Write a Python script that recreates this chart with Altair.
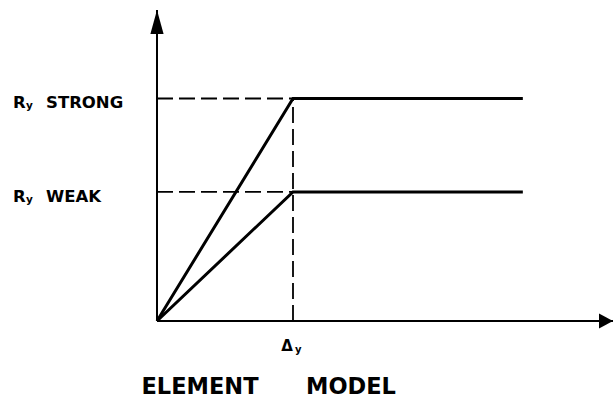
import altair as alt
import pandas as pd

# Element model: force R versus deformation, bilinear for a strong and a weak element
delta_y = 1.0                     # yield deformation
level_names = ["STRONG", "WEAK"]
r_levels = [1.0, 0.58]            # yield strengths R_y
x_plateau_end = 2.69              # end of the plastic plateau
x_axis_end = 3.353                # tip of the deformation axis
y_axis_end = 1.398                # tip of the force axis

X_DOMAIN = [-1.1544, 3.3603]
Y_DOMAIN = [-0.3506, 1.4427]
FONT = "DejaVu Sans"

xs = alt.Scale(domain=X_DOMAIN, nice=False, zero=False)
ys = alt.Scale(domain=Y_DOMAIN, nice=False, zero=False)

# curves: origin -> yield point -> plateau
curve_rows = []
for name, r in zip(level_names, r_levels):
    for i, (xv, yv) in enumerate([(0.0, 0.0), (delta_y, r), (x_plateau_end, r)]):
        curve_rows.append({"name": name, "order": i, "x": xv, "y": yv})
curves_df = pd.DataFrame(curve_rows)

axes_df = pd.DataFrame([
    {"x": 0.0, "y": 0.0, "x2": x_axis_end, "y2": 0.0},
    {"x": 0.0, "y": 0.0, "x2": 0.0, "y2": y_axis_end},
])

dash_rows = [{"x": 0.0, "y": r, "x2": delta_y, "y2": r} for r in r_levels]
dash_rows.append({"x": delta_y, "y": 0.0, "x2": delta_y, "y2": max(r_levels)})
dash_df = pd.DataFrame(dash_rows)

labels_df = pd.DataFrame({"name": level_names, "level": r_levels, "x0": 0.0})
delta_df = pd.DataFrame({"x": [delta_y], "y": [0.0]})
origin_df = pd.DataFrame({"x": [0.0], "y": [0.0]})

X = lambda f: alt.X(f, type="quantitative", scale=xs, axis=None)
Y = lambda f: alt.Y(f, type="quantitative", scale=ys, axis=None)

axes = alt.Chart(axes_df).mark_rule(color="black", strokeWidth=2).encode(
    x=X("x"), y=Y("y"), x2="x2", y2="y2"
)

dashes = alt.Chart(dash_df).mark_rule(
    color="black", strokeWidth=1.8, strokeDash=[16, 6]
).encode(x=X("x"), y=Y("y"), x2="x2", y2="y2")

curves = alt.Chart(curves_df).mark_line(
    color="black", strokeWidth=3, strokeJoin="miter"
).encode(x=X("x"), y=Y("y"), detail="name", order="order")

arrow_up = alt.Chart(pd.DataFrame({"x": [0.0], "y": [y_axis_end]})).mark_point(
    shape="M0,0L0.55,2L-0.55,2Z", size=576, filled=True, color="black", opacity=1
).encode(x=X("x"), y=Y("y"))

arrow_right = alt.Chart(pd.DataFrame({"x": [x_axis_end], "y": [0.0]})).mark_point(
    shape="M0,0L-2,-1.07L-2,1.07Z", size=196, filled=True, color="black", opacity=1
).encode(x=X("x"), y=Y("y"))

label_base = alt.Chart(labels_df).encode(x=X("x0"), y=Y("level"))
r_text = label_base.mark_text(
    text="R", align="left", baseline="alphabetic", dx=-144, dy=10,
    font=FONT, fontSize=16.5, fontWeight="bold", color="black"
)
r_sub = label_base.mark_text(
    text="y", align="left", baseline="alphabetic", dx=-131, dy=11,
    font=FONT, fontSize=10.5, fontWeight="bold", color="black"
)
r_name = label_base.mark_text(
    align="left", baseline="alphabetic", dx=-111, dy=10,
    font=FONT, fontSize=16.5, fontWeight="bold", color="black"
).encode(text="name")

delta_base = alt.Chart(delta_df).encode(x=X("x"), y=Y("y"))
delta_text = delta_base.mark_text(
    text="Δ", align="center", baseline="alphabetic", dx=-6, dy=30,
    font=FONT, fontSize=15, fontWeight="bold", color="black"
)
delta_sub = delta_base.mark_text(
    text="y", align="left", baseline="alphabetic", dx=2, dy=32,
    font=FONT, fontSize=10, fontWeight="bold", color="black"
)

title_base = alt.Chart(origin_df).encode(x=X("x"), y=Y("y"))
title_a = title_base.mark_text(
    text="ELEMENT", align="center", baseline="alphabetic", dx=43, dy=73,
    font=FONT, fontSize=22.5, fontWeight="bold", color="black"
)
title_b = title_base.mark_text(
    text="MODEL", align="center", baseline="alphabetic", dx=194, dy=73,
    font=FONT, fontSize=22.5, fontWeight="bold", color="black"
)

chart = alt.layer(
    axes, dashes, curves, arrow_up, arrow_right,
    r_text, r_sub, r_name, delta_text, delta_sub, title_a, title_b
).properties(
    width=614, height=399, padding=0,
    autosize=alt.AutoSizeParams(type="none"),
    background="white",
).configure_view(stroke=None)

chart.save("out.html", embed_options={"renderer": "svg", "actions": False})
